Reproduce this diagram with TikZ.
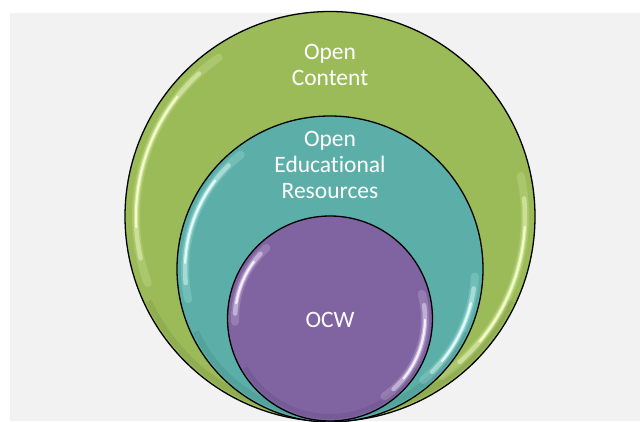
\documentclass[tikz,border=0pt]{standalone}
\usepackage{fontspec}
\setmainfont[Ligatures={NoCommon,NoContextual,NoRare}]{Carlito}
\definecolor{bggray}{HTML}{F2F2F2}
\definecolor{ocgreen}{HTML}{9BBB59}
\definecolor{oerteal}{HTML}{5BAFA8}
\definecolor{ocwpurple}{HTML}{8064A2}
\definecolor{greenglare}{HTML}{F4FFC8}
\definecolor{tealglare}{HTML}{E2FFFF}
\definecolor{purpleglare}{HTML}{F8F0FF}
\newcommand{\myglare}[6]{%
  \pgfmathsetmacro{\gm}{(#4+#5)/2}%
  \pgfmathsetmacro{\gh}{(#5-#4)/2}%
  \pgfmathsetmacro{\gA}{\gm-0.8*\gh}%
  \pgfmathsetmacro{\gB}{\gm+0.8*\gh}%
  \pgfmathsetmacro{\gC}{\gm-0.55*\gh}%
  \pgfmathsetmacro{\gD}{\gm+0.55*\gh}%
  \draw[#6, line width=8pt, opacity=0.18, line cap=round] (#1,#2) ++(#4:#3pt) arc[start angle=#4, end angle=#5, radius=#3pt];
  \draw[#6, line width=4.5pt, opacity=0.45, line cap=round] (#1,#2) ++(\gA:#3pt) arc[start angle=\gA, end angle=\gB, radius=#3pt];
  \draw[#6, line width=2.2pt, opacity=0.95, line cap=round] (#1,#2) ++(\gC:#3pt) arc[start angle=\gC, end angle=\gD, radius=#3pt];
}
\tikzset{
  ring/.style={circle, draw=black, line width=1.3pt, inner sep=0pt},
  lbl/.style={text=white, align=center, inner sep=0pt, font=\fontsize{23.5}{26}\selectfont},
}
\begin{document}
\begin{tikzpicture}[x=1pt,y=1pt]
\useasboundingbox (0,0) rectangle (640,421);
\fill[white] (0,0) rectangle (640,421);
\fill[bggray] (10,0) rectangle (640,408);
% outer circle
\node[ring, fill=ocgreen, minimum size=410pt] (oc) at (330,204.5) {};
\draw[black, opacity=0.07, line width=6pt] (330,204.5) ++(205:200pt) arc[start angle=205, end angle=335, radius=200pt];
\myglare{330}{204.5}{194}{125}{200}{greenglare}
\myglare{330}{204.5}{195}{-55}{12}{greenglare}
% middle circle
\node[ring, fill=oerteal, minimum size=306pt] (oer) at (330,152) {};
\draw[black, opacity=0.07, line width=6pt] (330,152) ++(205:148pt) arc[start angle=205, end angle=335, radius=148pt];
\myglare{330}{152}{145}{128}{192}{tealglare}
\myglare{330}{152}{145}{-50}{-3}{tealglare}
% inner circle
\node[ring, fill=ocwpurple, minimum size=205pt] (ocw) at (330,102.5) {};
\draw[black, opacity=0.07, line width=5pt] (330,102.5) ++(210:98pt) arc[start angle=210, end angle=330, radius=98pt];
\myglare{330}{102.5}{95}{132}{182}{purpleglare}
\myglare{330}{102.5}{95}{-55}{15}{purpleglare}
% labels
\node[lbl] (oct) at (330,356) {Open\\Content};
\node[lbl] (oert) at (330,256.5) {Open\\Educational\\Resources};
\node[lbl] (ocwt) at (330,101) {OCW};
\end{tikzpicture}
\end{document}
